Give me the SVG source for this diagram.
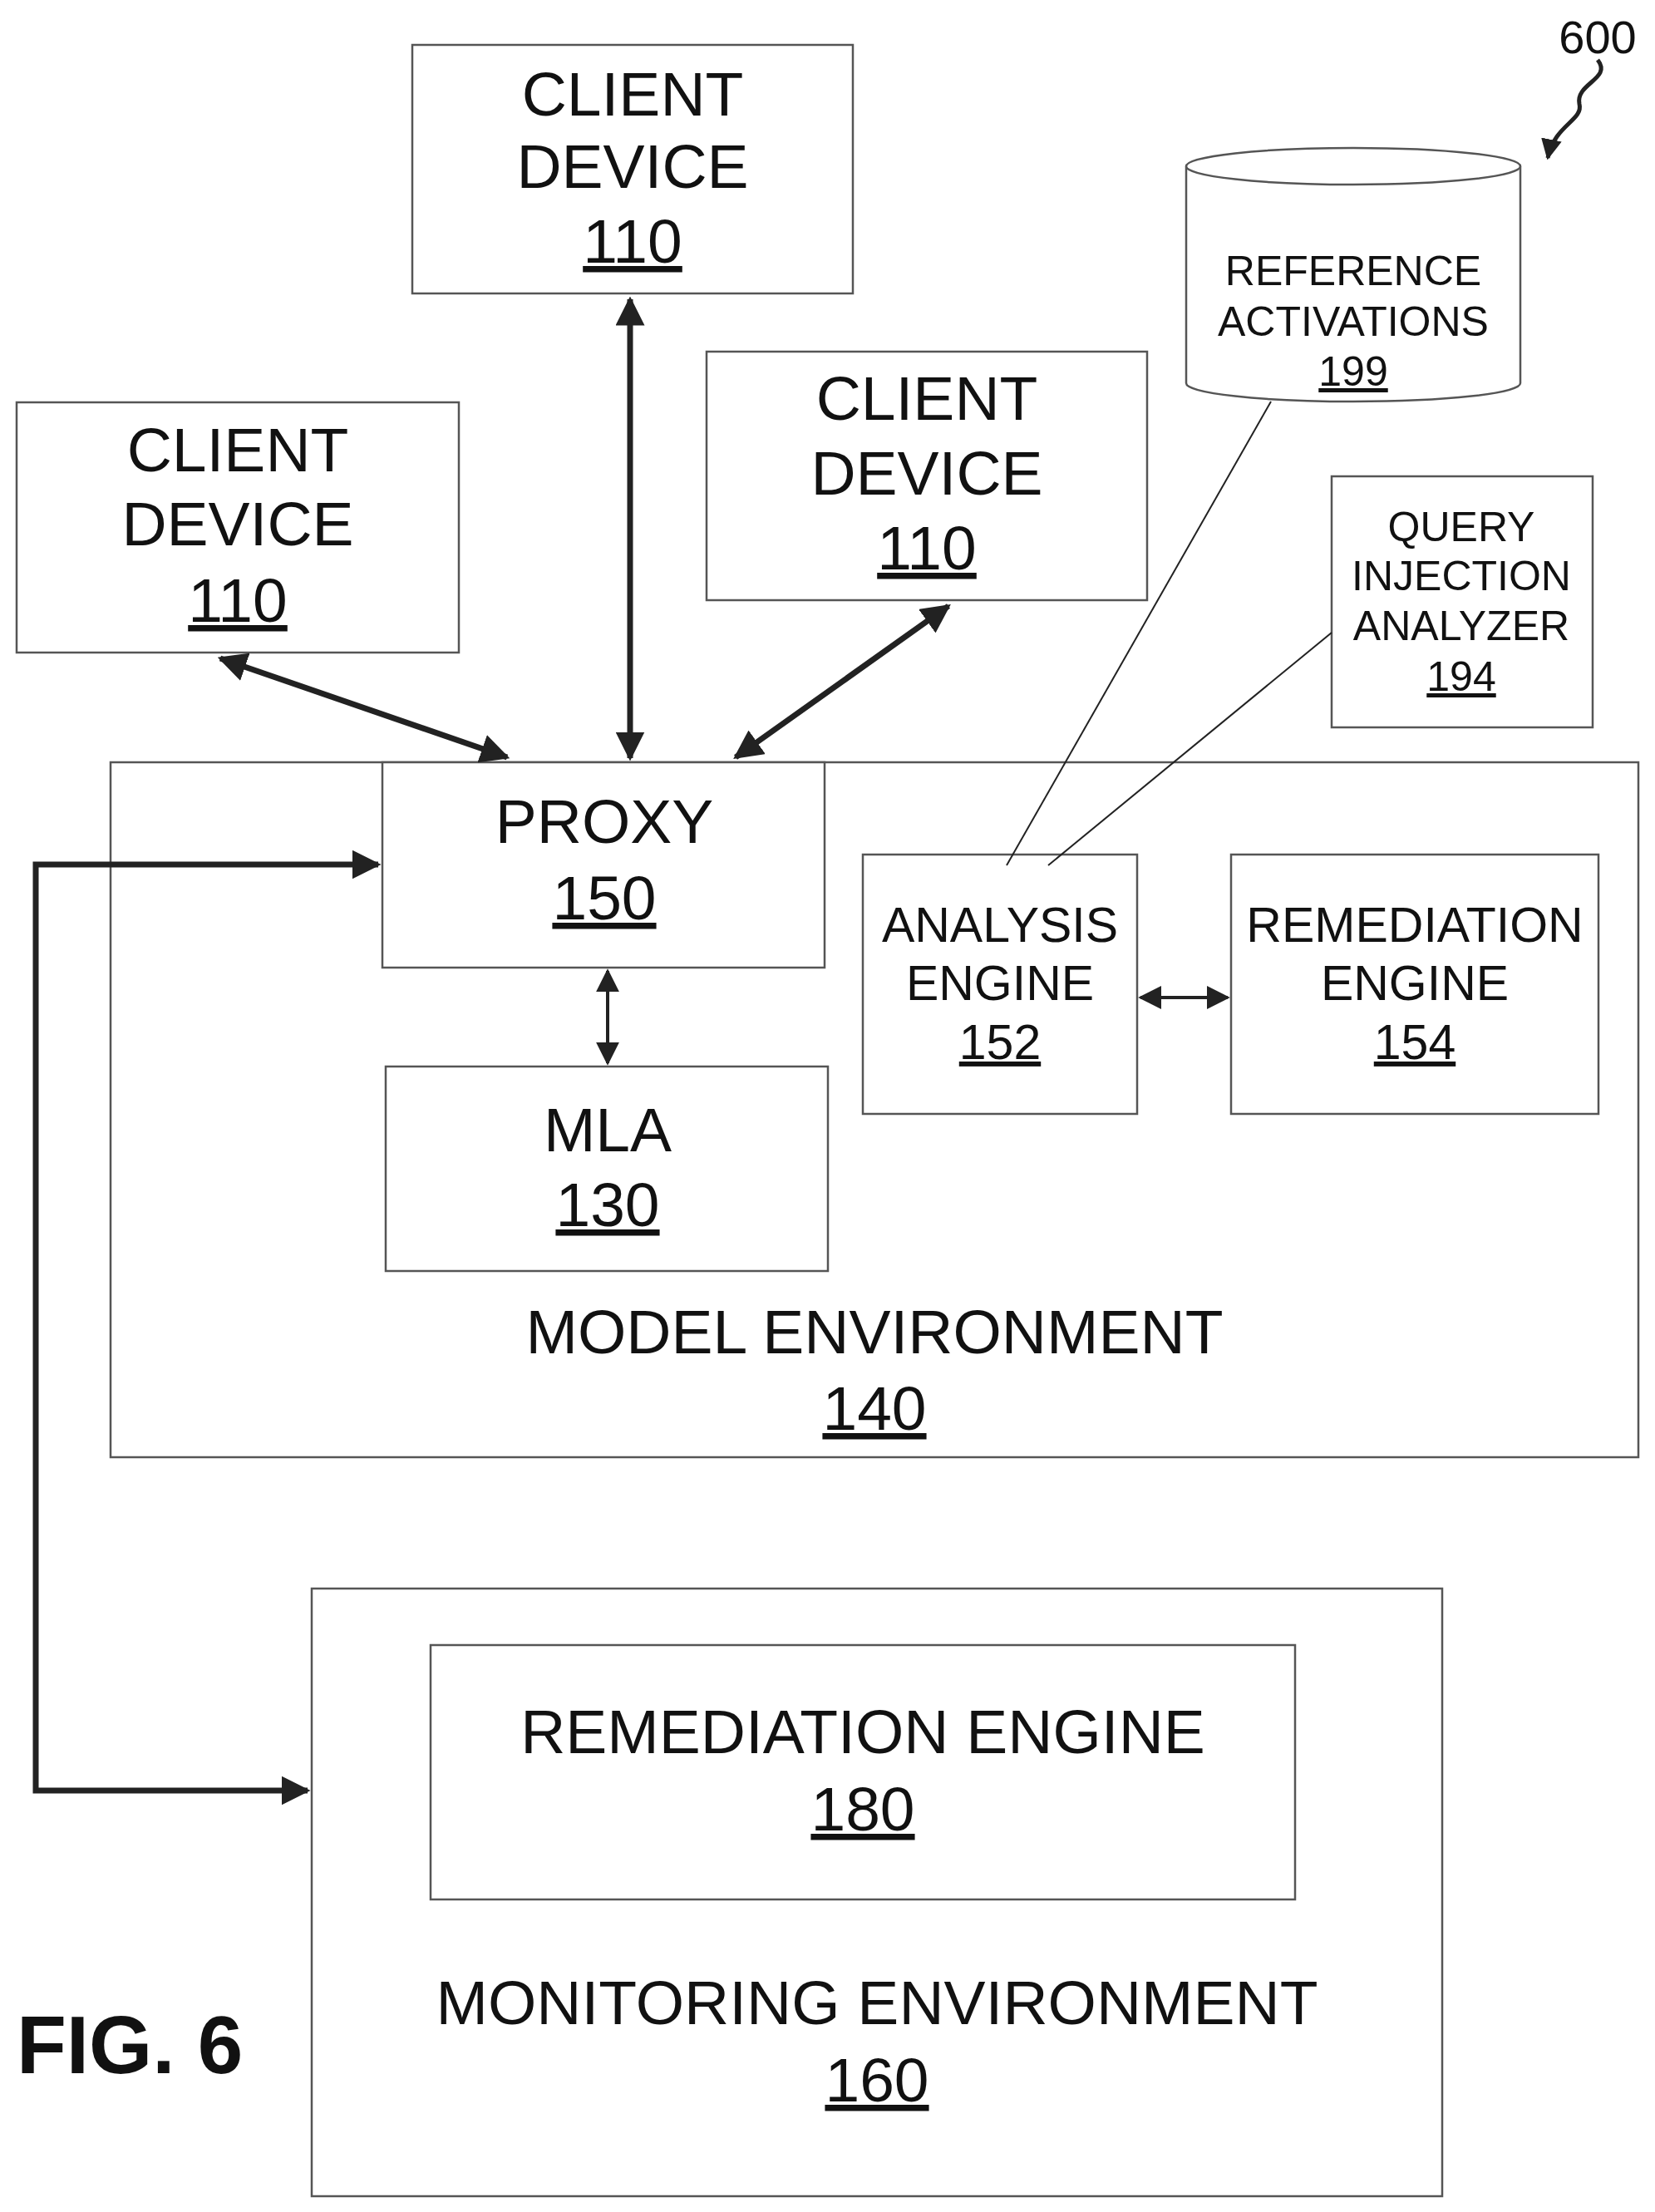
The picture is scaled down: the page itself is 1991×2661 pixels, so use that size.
<svg xmlns="http://www.w3.org/2000/svg" width="1991" height="2661" viewBox="0 0 1991 2661">
<style>
.b{fill:#fff;stroke:#555;stroke-width:2.5}
text{font-family:"Liberation Sans",Arial,sans-serif;fill:#111;text-anchor:middle}
.l{font-size:75px}.m{font-size:59px}.s{font-size:50px}
.u{text-decoration:underline}
.c{fill:none;stroke:#222}
</style>
<defs>
<marker id="a" viewBox="0 0 10 10" refX="9" refY="5" markerWidth="5" markerHeight="5" orient="auto-start-reverse"><path d="M0,0L10,5L0,10z" fill="#222"/></marker>
<marker id="a2" viewBox="0 0 10 10" refX="9" refY="5" markerWidth="7" markerHeight="7" orient="auto-start-reverse"><path d="M0,0L10,5L0,10z" fill="#222"/></marker>
</defs>
<rect width="1991" height="2661" fill="#fff"/>
<g id="model-env"><rect class="b" x="133" y="917" width="1838" height="836"/><text class="l" x="1052" y="1628">MODEL ENVIRONMENT</text><text class="l u" x="1052" y="1720">140</text></g>
<g id="monitoring-env"><rect class="b" x="375" y="1911" width="1360" height="731"/><text class="l" x="1055" y="2435">MONITORING ENVIRONMENT</text><text class="l u" x="1055" y="2528">160</text></g>
<g id="client-top"><rect class="b" x="496" y="54" width="530" height="299"/><text class="l" x="761" y="139">CLIENT</text><text class="l" x="761" y="226">DEVICE</text><text class="l u" x="761" y="316">110</text></g>
<g id="client-left"><rect class="b" x="20" y="484" width="532" height="301"/><text class="l" x="286" y="567">CLIENT</text><text class="l" x="286" y="656">DEVICE</text><text class="l u" x="286" y="748">110</text></g>
<g id="client-right"><rect class="b" x="850" y="423" width="530" height="299"/><text class="l" x="1115" y="505">CLIENT</text><text class="l" x="1115" y="595">DEVICE</text><text class="l u" x="1115" y="685">110</text></g>
<g id="ref-activations"><path class="b" d="M1427,200 V461 A201,22 0 0 0 1829,461 V200"/><ellipse class="b" cx="1628" cy="200" rx="201" ry="22"/><text class="s" x="1628" y="343">REFERENCE</text><text class="s" x="1628" y="404">ACTIVATIONS</text><text class="s u" x="1628" y="464">199</text></g>
<g id="query-injection"><rect class="b" x="1602" y="573" width="314" height="302"/><text class="s" x="1758" y="651">QUERY</text><text class="s" x="1758" y="710">INJECTION</text><text class="s" x="1758" y="770">ANALYZER</text><text class="s u" x="1758" y="831">194</text></g>
<g id="proxy"><rect class="b" x="460" y="917" width="532" height="247"/><text class="l" x="727" y="1014">PROXY</text><text class="l u" x="727" y="1106">150</text></g>
<g id="mla"><rect class="b" x="464" y="1283" width="532" height="246"/><text class="l" x="731" y="1385">MLA</text><text class="l u" x="731" y="1475">130</text></g>
<g id="analysis"><rect class="b" x="1038" y="1028" width="330" height="312"/><text class="m" x="1203" y="1133">ANALYSIS</text><text class="m" x="1203" y="1203">ENGINE</text><text class="m u" x="1203" y="1274">152</text></g>
<g id="remediation-154"><rect class="b" x="1481" y="1028" width="442" height="312"/><text class="m" x="1702" y="1133">REMEDIATION</text><text class="m" x="1702" y="1203">ENGINE</text><text class="m u" x="1702" y="1274">154</text></g>
<g id="remediation-180"><rect class="b" x="518" y="1979" width="1040" height="306"/><text class="l" x="1038" y="2109">REMEDIATION ENGINE</text><text class="l u" x="1038" y="2202">180</text></g>
<g id="connectors">
<line class="c" stroke-width="7" x1="758" y1="360" x2="758" y2="912" marker-start="url(#a)" marker-end="url(#a)"/>
<line class="c" stroke-width="7" x1="265" y1="792" x2="610" y2="911" marker-start="url(#a)" marker-end="url(#a)"/>
<line class="c" stroke-width="7" x1="1141" y1="729" x2="885" y2="911" marker-start="url(#a)" marker-end="url(#a)"/>
<line class="c" stroke-width="4" x1="731" y1="1168" x2="731" y2="1279" marker-start="url(#a2)" marker-end="url(#a2)"/>
<line class="c" stroke-width="4" x1="1372" y1="1200" x2="1477" y2="1200" marker-start="url(#a2)" marker-end="url(#a2)"/>
<polyline class="c" stroke-width="7" points="455,1040 43,1040 43,2154 370,2154" marker-start="url(#a)" marker-end="url(#a)"/>
<line class="c" stroke-width="2" stroke="#555" x1="1529" y1="483" x2="1211" y2="1041"/>
<line class="c" stroke-width="2" stroke="#555" x1="1602" y1="761" x2="1261" y2="1041"/>
<path class="c" stroke-width="5" d="M1922,72 C1940,95 1895,100 1900,125 C1905,145 1870,150 1862,190" marker-end="url(#a)"/>
</g>
<text x="1922" y="64" style="font-size:56px">600</text>
<text x="20" y="2494" style="font-size:98px;font-weight:bold;text-anchor:start">FIG. 6</text>
</svg>
